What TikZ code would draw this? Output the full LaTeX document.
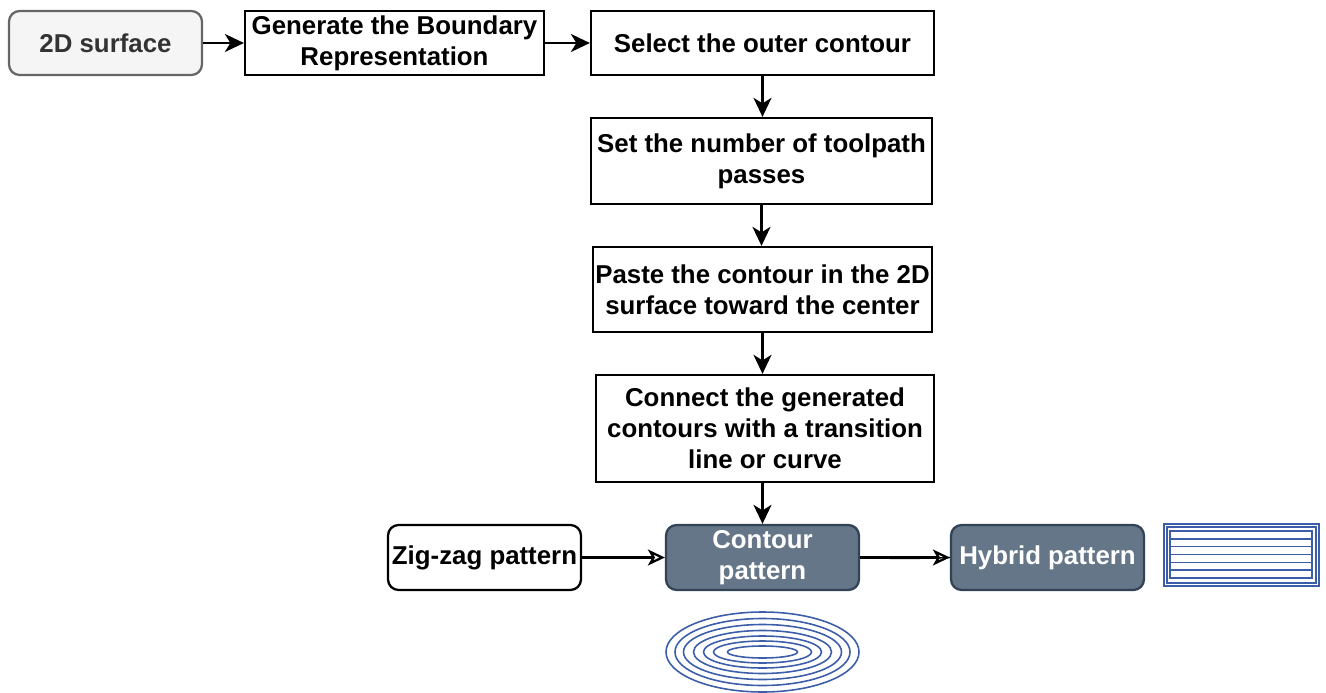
\documentclass[tikz,border=0pt]{standalone}
\usepackage{fontspec}
\setmainfont{Liberation Sans}
\usetikzlibrary{arrows.meta, positioning}

\definecolor{greyfill}{HTML}{F5F5F5}
\definecolor{greyline}{HTML}{666666}
\definecolor{greytext}{HTML}{333333}
\definecolor{slatefill}{HTML}{647687}
\definecolor{slateline}{HTML}{314354}
\definecolor{pathblue}{HTML}{3C5DA8}

\tikzset{
  stepbox/.style={draw, line width=1.3pt, inner sep=0pt, align=center,
    font=\fontsize{14.7}{17.6}\selectfont\bfseries},
  startbox/.style={stepbox, rounded corners=6pt, fill=greyfill, draw=greyline,
    text=greytext, minimum width=3.86cm, minimum height=1.28cm},
  patternbox/.style={stepbox, rounded corners=6pt, minimum width=3.86cm,
    minimum height=1.3cm},
  darkbox/.style={patternbox, fill=slatefill, draw=slateline, text=white},
  flow/.style={line width=1.4pt, -{Stealth[length=0.38cm, width=0.36cm, inset=0.11cm]}},
  sketchflow/.style={line width=1.3pt, -{Stealth[open, length=0.34cm, width=0.32cm, inset=0.09cm]}},
  toolpath/.style={draw=pathblue, line width=0.9pt}
}

\begin{document}
\begin{tikzpicture}[x=0.02cm, y=-0.02cm]
  \useasboundingbox (0,0) rectangle (1326,693);

  % main chain of steps
  \node[startbox] (surf) at (105.5,43) {2D surface};
  \node[stepbox, minimum width=5.98cm, minimum height=1.28cm] (brep) at (394.5,43)
       {Generate the Boundary\\ Representation};
  \node[stepbox, minimum width=6.86cm, minimum height=1.28cm] (outer) at (762.5,43)
       {Select the outer contour};
  \node[stepbox, minimum width=6.82cm, minimum height=1.72cm] (passes) at (761.5,161)
       {Set the number of toolpath\\ passes};
  \node[stepbox, minimum width=6.78cm, minimum height=1.7cm] (paste) at (762.5,289.5)
       {Paste the contour in the 2D\\ surface toward the center};
  \node[stepbox, minimum width=6.76cm, minimum height=2.14cm] (connect) at (765,428.5)
       {Connect the generated\\ contours with a transition\\ line or curve};

  % pattern row
  \node[patternbox] (zigzag) at (484.5,557.5) {Zig-zag pattern};
  \node[darkbox] (contour) at (762.5,557.5) {Contour\\ pattern};
  \node[darkbox] (hybrid) at (1047.5,557.5) {Hybrid pattern};

  \draw[flow] (surf.east) -- (brep.west);
  \draw[flow] (brep.east) -- (outer.west);
  \draw[flow] (outer.south) -- (outer.south |- passes.north);
  \draw[flow] (passes.south) -- (passes.south |- paste.north);
  \draw[flow] (paste.south) -- (paste.south |- connect.north);
  \draw[flow] (connect.south -| contour.north) -- (contour.north);
  \draw[sketchflow] (zigzag.east) -- (contour.west);
  \draw[sketchflow] (contour.east) -- (hybrid.west);
  \draw[line width=0.8pt] (contour.east) to[bend right=2] (hybrid.west);

  % concentric contour passes
  \foreach \rx/\ry in {96.5/40, 87.5/33.5, 79/27.5, 69/21.5, 59/16, 49/11, 35/6}
    \draw[toolpath] (762.5,652) ellipse[x radius=\rx, y radius=\ry];

  % hybrid passes: outer rings with parallel infill
  \draw[toolpath] (1164,524) rectangle (1319,586);
  \draw[toolpath] (1167,527) rectangle (1316,583);
  \draw[toolpath] (1170,531) rectangle (1312,578);
  \foreach \y in {538.8, 546.7, 554.5, 562.3, 570.2}
    \draw[toolpath] (1170,\y) -- (1312,\y);
\end{tikzpicture}
\end{document}
